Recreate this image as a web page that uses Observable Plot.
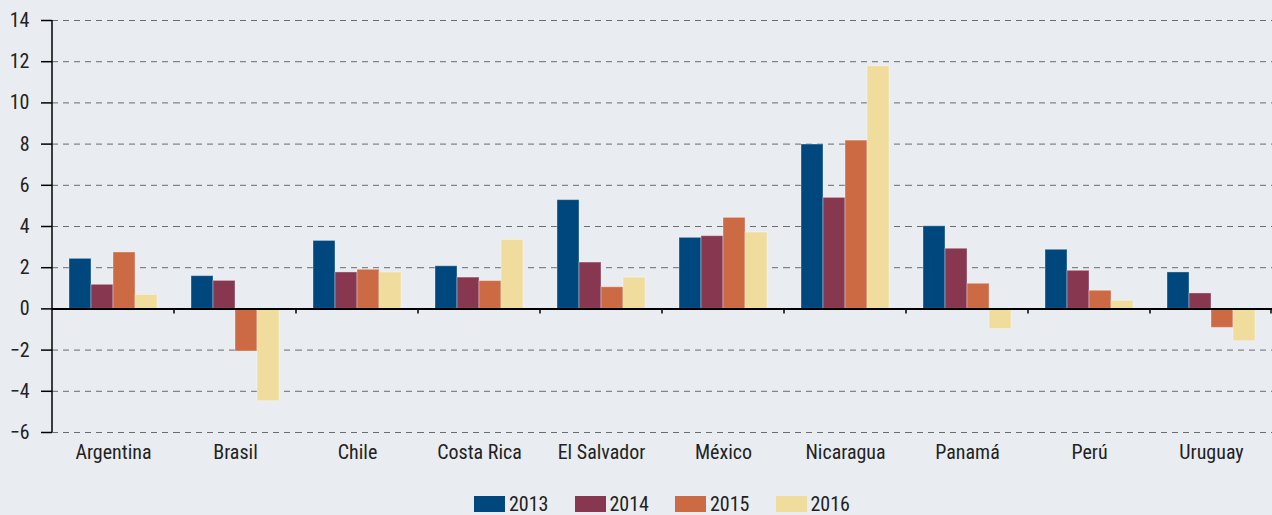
<!DOCTYPE html>
<html><head><meta charset="utf-8">
<script src="https://cdn.jsdelivr.net/npm/d3@7"></script>
<script src="https://cdn.jsdelivr.net/npm/@observablehq/plot@0.6"></script>
<style>
body{margin:0;background:#e9edf2;font-family:"Liberation Sans Narrow","Roboto Condensed","DejaVu Sans Condensed",sans-serif;}
#legend{display:flex;justify-content:center;margin-left:52px;width:1220px;padding-top:26px;gap:26px;font-size:20px;color:#222;}
#legend .item{display:flex;align-items:center;gap:4px;line-height:16px;}
#legend .sw{width:31px;height:16px;display:inline-block;}
</style></head>
<body><div id="chart"></div><div id="legend"></div>
<script>
const countries = ["Argentina","Brasil","Chile","Costa Rica","El Salvador","México","Nicaragua","Panamá","Perú","Uruguay"];
const years = ["2013","2014","2015","2016"];
const v2013 = [2.43, 1.59, 3.30, 2.07, 5.28, 3.45, 7.98, 4.01, 2.87, 1.77];
const v2014 = [1.17, 1.36, 1.77, 1.52, 2.25, 3.53, 5.39, 2.92, 1.85, 0.75];
const v2015 = [2.74, -2.07, 1.90, 1.35, 1.05, 4.42, 8.17, 1.22, 0.88, -0.92];
const v2016 = [0.68, -4.48, 1.77, 3.35, 1.52, 3.71, 11.78, -0.98, 0.39, -1.57];
const colors = ["#00477e","#883751","#cc6a44","#f0dd9e"];
const yTicks = [-6,-4,-2,0,2,4,6,8,10,12,14];

const series = [v2013, v2014, v2015, v2016];
const data = [];
countries.forEach((c,i)=> years.forEach((y,j)=> data.push({country:c, year:y, value:series[j][i]})));

const font = '"Liberation Sans Narrow","Roboto Condensed","DejaVu Sans Condensed",sans-serif';
const plot = Plot.plot({
  width:1272, height:470, marginLeft:52, marginRight:0, marginTop:20, marginBottom:38,
  style:{background:"transparent", fontFamily:font, fontSize:"20px", color:"#222", overflow:"visible"},
  fx:{domain:countries, padding:0, label:null},
  x:{domain:years, paddingInner:0, paddingOuter:0.71, axis:null},
  y:{domain:[-6,14], label:null},
  color:{domain:years, range:colors},
  marks:[
    Plot.gridY(yTicks.filter(t=>t!==0), {stroke:"#555", strokeOpacity:0.85, strokeDasharray:"6,5", strokeWidth:1}),
    Plot.axisY(yTicks, {tickSize:11, tickPadding:12, label:null, stroke:"#000", strokeWidth:1.5}),
    Plot.axisFx({anchor:"bottom", tickSize:0, tickPadding:12, label:null}),
    Plot.barY(data, {fx:"country", x:"year", y:"value", fill:"year", stroke:"#ffffff", strokeOpacity:0.35, strokeWidth:1}),
    Plot.ruleY([0], {stroke:"#000", strokeWidth:2})
  ]
});
document.getElementById("chart").appendChild(plot);

// axis line and category boundary ticks from the library's scales
const fx = plot.scale("fx"), y = plot.scale("y");
const svg = d3.select(plot);
const g = svg.append("g").attr("stroke","#000");
g.append("line").attr("x1",fx.range[0]).attr("x2",fx.range[0])
  .attr("y1",y.apply(14)).attr("y2",y.apply(-6)).attr("stroke-width",1.5);
const bounds = countries.slice(1).map(c=>fx.apply(c)).concat([fx.range[1]-1]);
bounds.forEach(xb=>{
  g.append("line").attr("x1",xb).attr("x2",xb).attr("y1",y.apply(0)).attr("y2",y.apply(0)+5).attr("stroke-width",1.5);
});

const legend = document.getElementById("legend");
years.forEach((yr,i)=>{
  const it = document.createElement("div"); it.className="item";
  it.innerHTML = `<span class="sw" style="background:${colors[i]}"></span><span>${yr}</span>`;
  legend.appendChild(it);
});
</script>
</body></html>
